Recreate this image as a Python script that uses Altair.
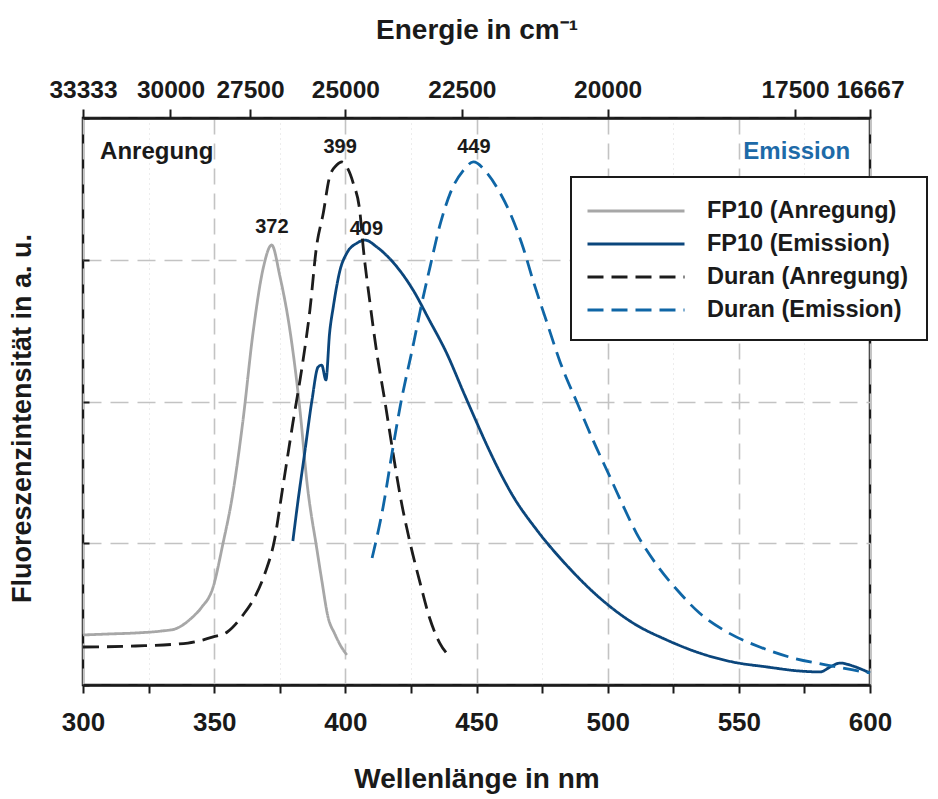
import altair as alt
import pandas as pd

FONT = "Liberation Sans"
INK = "#1a1a1a"

# ---------------- data ----------------
fp10_ex_nm = [300, 310, 320, 330, 335, 341.4, 345, 349.6, 353.4, 356.7, 361, 364.8, 368.8, 371.9,
              375.1, 378.9, 382.7, 385.4, 389.2, 391, 393.4, 396, 398.5, 400.6]
fp10_ex_int = [0.353, 0.360, 0.367, 0.381, 0.395, 0.473, 0.543, 0.691, 1.002, 1.305, 1.869, 2.483, 2.949, 3.104,
               2.880, 2.500, 1.940, 1.425, 0.952, 0.741, 0.480, 0.360, 0.268, 0.212]

fp10_em_nm = [380, 382, 384.5, 387.3, 389.6, 391, 392.6, 394, 395.4, 398, 400.6, 404.5, 407.5, 412, 419.7,
              425.8, 432, 438.6, 445, 450.6, 454, 464, 473, 485, 497, 509.7, 522.6, 535, 547.8, 560.8,
              573, 581, 584.8, 588.6, 593.5, 597.4, 600]
fp10_em_int = [1.016, 1.305, 1.637, 2.011, 2.243, 2.257, 2.152, 2.483, 2.667, 2.928, 3.048, 3.118, 3.139, 3.090, 2.949,
               2.787, 2.575, 2.342, 2.067, 1.830, 1.690, 1.330, 1.093, 0.832, 0.614, 0.437, 0.317, 0.226, 0.162, 0.127,
               0.099, 0.092, 0.127, 0.155, 0.134, 0.106, 0.085]

duran_ex_nm = [300, 320, 340, 349.6, 355, 361, 365.5, 369.4, 373, 376, 380, 383.5, 386.5, 389, 391.6, 394,
               396.7, 398.7, 400.6, 403, 405.6, 406.8, 409.4, 412, 415, 418, 421, 424.7, 428.5, 432, 436, 439.5]
duran_ex_int = [0.268, 0.275, 0.296, 0.339, 0.374, 0.494, 0.621, 0.790, 1.023, 1.376, 1.848, 2.243, 2.646, 3.090, 3.330, 3.584,
                3.668, 3.690, 3.654, 3.541, 3.330, 3.090, 2.695, 2.342, 2.011, 1.658, 1.326, 1.002, 0.720, 0.480, 0.296, 0.205]

duran_em_nm = [410.2, 414.4, 418, 421, 425.9, 429, 432.3, 436, 440, 445, 448.8, 454, 459, 462.8, 467.7, 471.5,
               476.9, 482, 488.4, 494.4, 500.9, 505, 511, 518.8, 526.5, 535, 545.5, 558, 570.7, 583.6, 593.5, 600]
duran_em_int = [0.896, 1.256, 1.658, 1.975, 2.400, 2.680, 2.950, 3.240, 3.470, 3.630, 3.690, 3.612, 3.471, 3.330, 3.090, 2.857,
                2.554, 2.272, 1.989, 1.728, 1.467, 1.300, 1.070, 0.845, 0.670, 0.508, 0.374, 0.268, 0.190, 0.141, 0.106, 0.085]

series_names = ["FP10 (Anregung)", "FP10 (Emission)", "Duran (Anregung)", "Duran (Emission)"]
series_colors = ["#a7a7a7", "#0b467c", "#1c1c1c", "#0f66a6"]
series_dashes = [[1, 0], [1, 0], [16, 8], [16, 8]]

peak_labels = ["372", "399", "409", "449"]
peak_label_x = [372, 398, 408, 449]
peak_label_y = [3.23, 3.795, 3.22, 3.795]

side_labels = ["Anregung", "Emission"]
side_label_x = [306.5, 592.4]
side_label_y = [3.76, 3.76]

wavelength_ticks = [300, 325, 350, 375, 400, 425, 450, 475, 500, 525, 550, 575, 600]
energy_ticks = [33333, 30000, 27500, 25000, 22500, 20000, 17500, 16667]
intensity_ticks = [0, 1, 2, 3, 4]

# ---------------- tables ----------------
rows = []
for name, xs, ys in zip(series_names,
                        [fp10_ex_nm, fp10_em_nm, duran_ex_nm, duran_em_nm],
                        [fp10_ex_int, fp10_em_int, duran_ex_int, duran_em_int]):
    for i, (x, y) in enumerate(zip(xs, ys)):
        rows.append({"series": name, "nm": x, "v": y, "idx": i})
df = pd.DataFrame(rows)

peaks_df = pd.DataFrame({"label": peak_labels, "x": peak_label_x, "y": peak_label_y})
anr_df = pd.DataFrame({"label": side_labels[:1], "x": side_label_x[:1], "y": side_label_y[:1]})
emi_df = pd.DataFrame({"label": side_labels[1:], "x": side_label_x[1:], "y": side_label_y[1:]})

xscale = alt.Scale(domain=[300, 600], nice=False, zero=False)
yscale = alt.Scale(domain=[0, 4], nice=False, zero=False)

major = "datum.value % 50 === 0"

bottom_axis = alt.Axis(
    orient="bottom", values=wavelength_ticks, title="Wellenlänge in nm",
    labelExpr="datum.value % 50 === 0 ? datum.label : ''",
    labelFont=FONT, labelFontSize=26, labelFontWeight="bold", labelColor=INK,
    labelBaseline="middle", labelPadding=29, labelFlush=False, labelOverlap=False,
    tickColor=INK, tickWidth=2, tickSize=8,
    domainColor=INK, domainWidth=2.5,
    grid=True,
    gridColor={"condition": {"test": major, "value": "#c3c3c3"}, "value": "#dadada"},
    gridDash={"condition": {"test": major, "value": [16, 9]}, "value": [1, 4]},
    gridWidth={"condition": {"test": major, "value": 1.6}, "value": 1},
    titleFont=FONT, titleFontSize=28, titleFontWeight="bold", titleColor=INK,
    titleY=94, titleBaseline="middle",
)

left_axis = alt.Axis(
    orient="left", values=intensity_ticks, labels=False, ticks=False, domain=False,
    grid=True, gridColor="#c3c3c3", gridDash=[18, 9], gridWidth=1.6,
    title="Fluoreszenzintensität in a. u.",
    titleFont=FONT, titleFontSize=27, titleFontWeight="bold", titleColor=INK,
    titleX=-61, titleY=300, titleAngle=270, titleBaseline="middle", titleAlign="center",
)

top_axis = alt.Axis(
    orient="top", values=[1e7 / e for e in energy_ticks],
    labelExpr="format(round(1e7 / datum.value), 'd')",
    labelFont=FONT, labelFontSize=24.5, labelFontWeight="bold", labelColor=INK,
    labelBaseline="middle", labelPadding=19, labelFlush=False, labelOverlap=False,
    tickColor=INK, tickWidth=2, tickSize=9,
    domainColor=INK, domainWidth=2.5, grid=False,
    title="Energie in cm⁻¹",
    titleFont=FONT, titleFontSize=28, titleFontWeight="bold", titleColor=INK,
    titleY=-88, titleBaseline="middle",
)

inner_tick_axis = alt.Axis(
    orient="right", offset=-787, values=intensity_ticks, labels=False, domain=False,
    grid=False, ticks=True, tickSize=6, tickWidth=2, tickColor=INK, title=None,
)

legend = alt.Legend(
    title=None, orient="none", legendX=488, legendY=59, direction="vertical",
    fillColor="white", strokeColor=INK, padding=18, rowPadding=5,
    symbolType="M-1.207,0H5.483", symbolSize=841, symbolStrokeWidth=3,
    labelFont=FONT, labelFontSize=23.5, labelFontWeight="bold", labelColor=INK,
    labelLimit=400, labelOffset=86,
)

lines = alt.Chart(df).mark_line(strokeWidth=2.8, strokeJoin="round", interpolate="monotone").encode(
    x=alt.X("nm:Q", scale=xscale, axis=bottom_axis),
    y=alt.Y("v:Q", scale=yscale, axis=left_axis),
    color=alt.Color("series:N", sort=series_names,
                    scale=alt.Scale(domain=series_names, range=series_colors), legend=legend),
    strokeDash=alt.StrokeDash("series:N", sort=series_names,
                              scale=alt.Scale(domain=series_names, range=series_dashes), legend=legend),
    order="idx:Q",
)

peaks = alt.Chart(peaks_df).mark_text(
    font=FONT, fontSize=20, fontWeight="bold", color=INK, align="center", baseline="middle"
).encode(
    x=alt.X("x:Q", scale=xscale, axis=top_axis),
    y=alt.Y("y:Q", scale=yscale, axis=inner_tick_axis),
    text="label:N",
)

anr = alt.Chart(anr_df).mark_text(
    font=FONT, fontSize=24, fontWeight="bold", color=INK, align="left", baseline="middle"
).encode(
    x=alt.X("x:Q", scale=xscale, axis=None),
    y=alt.Y("y:Q", scale=yscale, axis=None),
    text="label:N",
)

emi = alt.Chart(emi_df).mark_text(
    font=FONT, fontSize=24, fontWeight="bold", color="#1d6aa8", align="right", baseline="middle"
).encode(
    x=alt.X("x:Q", scale=xscale, axis=None),
    y=alt.Y("y:Q", scale=yscale, axis=None),
    text="label:N",
)

chart = alt.layer(lines, peaks, anr, emi).resolve_axis(
    x="independent", y="independent"
).properties(
    width=787, height=567,
    padding={"left": 83, "top": 118, "right": 68, "bottom": 114},
    autosize=alt.AutoSizeParams(type="none"),
    background="white",
).configure_view(
    stroke=INK, strokeWidth=2.5
).configure_legend(
    strokeWidth=2
)

chart.save("out.html", embed_options={"renderer": "svg", "actions": False})
